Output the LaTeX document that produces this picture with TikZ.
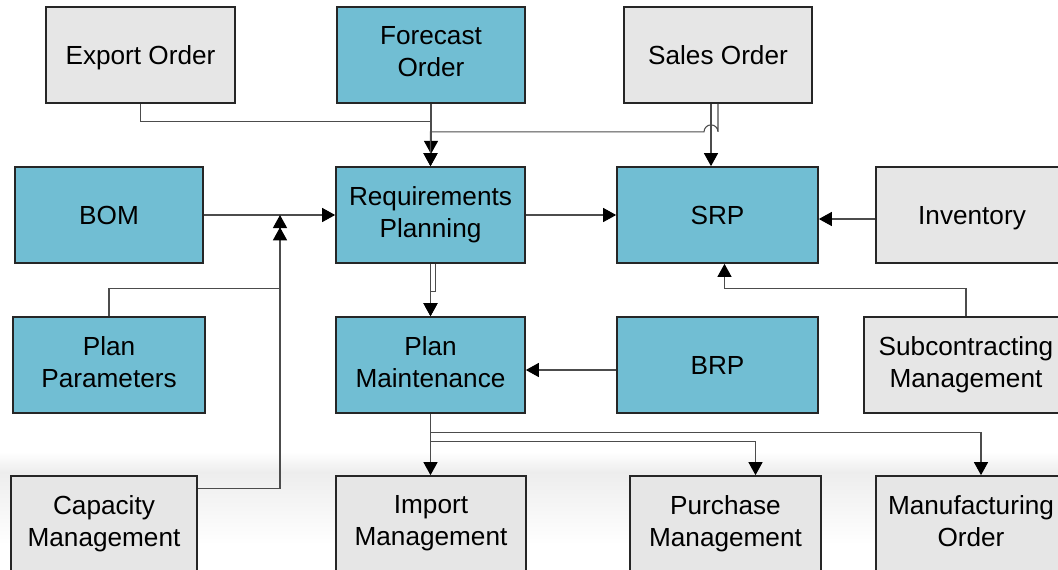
\documentclass[tikz,border=0pt]{standalone}
\usepackage{fontspec}
\setmainfont{Liberation Sans}
\usetikzlibrary{arrows.meta,calc}

\definecolor{tealfill}{RGB}{113,190,211}
\definecolor{greyfill}{RGB}{230,230,230}

\newcommand\boxstrut{\rule[-3.7pt]{0pt}{18pt}}

\tikzset{
  box/.style={draw=black!85, line width=1pt, minimum height=1.92cm, align=center,
              inner sep=2pt, font=\fontsize{14.9}{18}\selectfont,
              execute at begin node=\boxstrut, execute at end node=\boxstrut},
  tealbox/.style={fill=tealfill},
  greybox/.style={fill=greyfill},
  wire/.style={draw=black!70, line width=0.6pt},
  >={Triangle[length=7.4pt,width=8pt,color=black]}
}

\begin{document}
\begin{tikzpicture}[x=0.02cm,y=-0.02cm]
\useasboundingbox (0,0) rectangle (1058,569);
\shade[top color=white, bottom color=black!7] (0,452) rectangle (1058,472);
\shade[top color=black!7, bottom color=white] (0,472) rectangle (1058,545);

\begin{scope}[every node/.style={box}]
    \node[greybox, minimum width=3.78cm] (export) at (140.5,55) {Export Order};
    \node[tealbox, minimum width=3.76cm] (forecast) at (431,55) {Forecast\\Order};
    \node[greybox, minimum width=3.76cm] (sales) at (718,55) {Sales Order};

    \node[tealbox, minimum width=3.76cm] (bom) at (109,215) {BOM};
    \node[tealbox, minimum width=3.78cm] (rp) at (430.5,215) {Requirements\\Planning};
    \node[tealbox, minimum width=4.02cm] (srp) at (717.5,215) {SRP};
    \node[greybox, minimum width=3.84cm] (inv) at (972,215) {Inventory};

    \node[tealbox, minimum width=3.84cm] (params) at (109,365) {Plan\\Parameters};
    \node[tealbox, minimum width=3.78cm] (pm) at (430.5,365) {Plan\\Maintenance};
    \node[tealbox, minimum width=4.02cm] (brp) at (717.5,365) {BRP};
    \node[greybox, minimum width=4.08cm] (sub) at (966,365) {Subcontracting\\Management};

    \node[greybox, minimum width=3.72cm] (cap) at (104,524) {Capacity\\Management};
    \node[greybox, minimum width=3.80cm] (imp) at (431,524) {Import\\Management};
    \node[greybox, minimum width=3.82cm] (pur) at (725.5,524) {Purchase\\Management};
    \node[greybox, minimum width=3.80cm] (man) at (971,524) {Manufacturing\\Order};
\end{scope}

\coordinate (join) at (280,215);
\coordinate (s1) at ($(sales.south)+(-7,0)$);
\coordinate (hop) at ($(sales.south)+(0,28)$);

% into requirements planning
\draw[wire,->] (export.south) |- ($(rp.north)+(0,-45)$) -- (rp.north);
\draw[wire,->,shorten >=7pt] (forecast.south) -- (forecast.south |- rp.north);
\draw[wire,->] (sales.south) -- (hop)
    arc[start angle=0,end angle=180,radius=0.14cm] -- (rp.north |- hop) -- (rp.north);
\draw[wire,->] (bom) -- (rp);
\draw[wire,->] (params.north) -- ++(0,-28) -| (join);
\draw[wire,->,shorten >=7pt] ($(cap.north east)+(0,13)$) -| (join);

% into srp
\draw[wire,->] (s1) -- (s1 |- srp.north);
\draw[wire,->] (rp) -- (srp);
\draw[wire,->] ($(inv.west)+(0,4)$) -- ($(srp.east)+(0,4)$);
\draw[wire,->] (sub.north) -- ++(0,-28) -| ($(srp.south)+(7,0)$);

% plan maintenance
\draw[wire,->] (rp) -- (pm);
\draw[wire,->] ($(rp.south)+(5,0)$) -- ++(0,28) -- ++(-5,0) -- (pm.north);
\draw[wire,->] ($(brp.west)+(0,5)$) -- ($(pm.east)+(0,5)$);

% outputs
\draw[wire,->] (pm.south) -- (pm.south |- imp.north);
\draw[wire,->] (pm.south) -- ++(0,28) -| ($(pur.north)+(30,0)$);
\draw[wire,->] (pm.south) -- ++(0,19) -| ($(man.north)+(10,0)$);

\end{tikzpicture}
\end{document}
